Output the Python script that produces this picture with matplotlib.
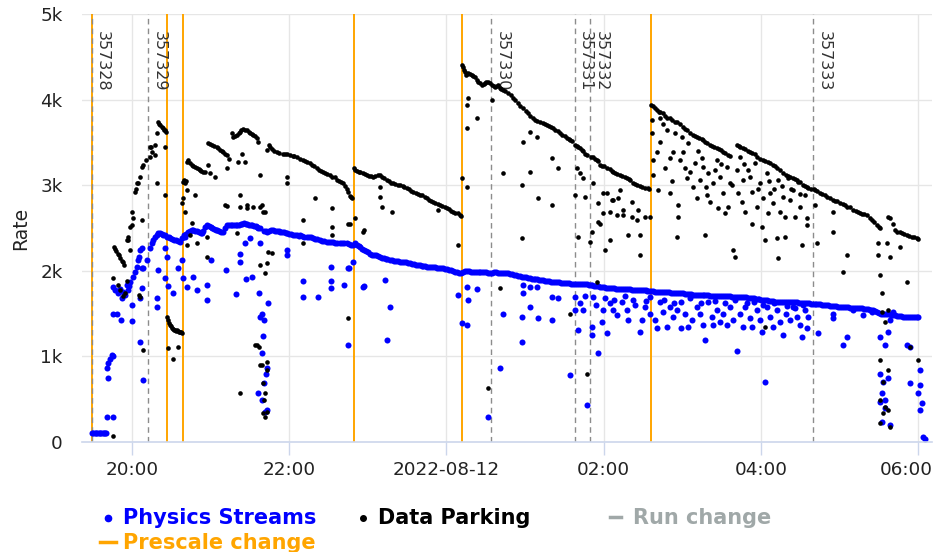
import datetime as dt
import matplotlib
matplotlib.use("Agg")
import matplotlib.pyplot as plt
import matplotlib.dates as mdates
from matplotlib.lines import Line2D
from matplotlib import transforms

# ---------------- data (minutes after 2022-08-11 19:00, rate) ----------------
T0 = dt.datetime(2022, 8, 11, 19, 0)

physics_start = [(29.5,100),(30.5,100),(31.5,100),(32.5,100),(33.5,100),(34.5,100),(35.5,100),
    (36.5,100),(37.5,100),(38.5,100),(39.5,100),(40.5,100),(41,290),(45.5,290),(41,860),(41.7,920),
    (43.2,970),(44.7,1020),(45.5,1000),(41.7,750),(45.5,1500),(48.5,1500),(51.6,1420),(60,1410),
    (66.1,1170),(68.4,720),(45.5,1810),(47,1780),(49.3,1740),(52.4,1680),(53.1,1750),(56.2,1830),
    (56.9,1780),(58.5,1870),(60,1600),(60.8,1930),(62.3,1990),(63.8,2040),(64.6,2130),(67.6,1800),
    (66.1,1680),(67.6,2270),(65.3,2160),(68.4,2030),(71.5,2130),(50.8,1790),(54.7,1720),(58,1820)]

physics_band = [(73.7,2270),(75,2320),(76,2360),(77.5,2400),(79,2420),(80,2440),(81.4,2440),(82.5,2430),
    (83.7,2420),(85,2420),(86.7,2400),(88,2390),(89,2380),(90.5,2370),(92,2360),(93.5,2360),(95,2350),
    (96.6,2340),(98,2380),(99.5,2420),(100.5,2400),(101.5,2430),(102.7,2450),(104,2470),(105.5,2480),
    (106.6,2480),(108,2470),(109.6,2460),(111,2450),(112.5,2440),(113.4,2440),(114.5,2470),(115.5,2510),
    (117.3,2530),(118.5,2520),(120,2510),(121.1,2500),(122.5,2490),(124,2480),(124.9,2480),(126.5,2460),
    (128,2450),(129.5,2450),(131,2500),(132.5,2530),(134,2540),(135.5,2530),(136.3,2530),(138,2540),
    (139.5,2530),(140.2,2530),(141.5,2540),(143,2550),(144,2550),(145.5,2560),(147,2550),(147.8,2550),
    (149,2540),(150.5,2540),(151.6,2530),(153,2520),(154.5,2520),(155.4,2510),(156.5,2500),(157.7,2500),
    (161,2470),(162.3,2460),(163.1,2450),(164.5,2470),(166,2480),(167.6,2480),(169,2470),(170.5,2460),
    (172,2460),(173,2450),(174.5,2450),(176,2450),(177.5,2440),(178.3,2440),(179.5,2430),(181,2430),
    (182.9,2420),(184.5,2420),(186,2420),(187.5,2410),(188.3,2420),(190,2410),(191.5,2400),(193.6,2400),
    (195,2390),(196.5,2390),(198.2,2380),(200,2370),(201.5,2370),(203.5,2360),(205,2350),(206.5,2350),
    (208.9,2340),(210.5,2340),(212,2340),(213.4,2340),(215,2330),(216.5,2330),(218.8,2320),(220.5,2320),
    (222,2320),(224.1,2320),(225.5,2310),(227,2300),(228.7,2300),(230,2320),(231.5,2300),(233,2290),
    (234.1,2280),(235.5,2260),(237,2240),(238.5,2230),(240,2220),(241.7,2200),(243,2190),(244.5,2190),
    (246,2180),(247.5,2170),(249,2160),(250.5,2150),(252,2150),(253.5,2140),(255,2140),(257,2130),
    (258.5,2130),(260,2120),(261.5,2120),(263,2110),(264.6,2100),(266,2100),(267.5,2100),(269,2100),
    (270.5,2090),(272,2090),(273.5,2080),(275,2080),(276.5,2070),(278,2070),(279.5,2070),(281,2060),
    (282.5,2060),(284,2060),(285.5,2050),(287,2050),(288.5,2050),(290,2040),(291.5,2040),(293,2030),
    (294.5,2030),(296,2030),(297.5,2030),(299,2020),(300.5,2020),(302,2010),(303.5,2010),(305,2000),
    (306.5,1990),(308,1990),(309.5,1980),(311,1970),(312.5,1990),(314,2000),(315.5,2000),(317,2000),
    (318.5,1990),(320,1990),(321.5,1990),(323,1990),(324.5,1990),(326,1990),(327.5,1990),(329,1990),
    (330.5,1990),(332,1980),(333.5,1980),(335,1970),(336.5,1990),(338,1990),(339.5,1980),(341,1980),
    (342.5,1980),(344,1970),(345.5,1970),(347,1970),(348.5,1960),(350,1960),(351.5,1950),(353,1950),
    (354.5,1940),(356,1940),(357.5,1930),(359,1930),(360.5,1930),(362,1920),(363.5,1920),(365,1910),
    (366.5,1910),(368,1900),(369.5,1900),(371,1890),(372.5,1890),(374,1890),(375.5,1880),(377,1880),
    (378.5,1880),(380,1870),(381.5,1870),(383,1870),(384.5,1870),(386,1870),(387.5,1860),(389,1860),
    (390.5,1860),(392,1860),(393.5,1860),(395,1850),(396.5,1850),(398,1850),(399.5,1850),(401,1840),
    (402.5,1850),(404,1850),(405.5,1840),(407,1840),(408.5,1830),(410,1830),(411.5,1830),(413,1820),
    (414.5,1820),(416,1820),(417.5,1810),(419,1810),(420.5,1810),(422,1800),(423.5,1800),(425,1800),
    (426.5,1800),(428,1800),(429.5,1790),(431,1790),(432.5,1790),(434,1790),(435.5,1790),(437,1790),
    (438.5,1790),(440,1790),(441.5,1780),(443,1780),(444.5,1780),(446,1780),(447.5,1780),(449,1770),
    (450.5,1770),(452,1770),(453.5,1760),(455,1760),(456.5,1760),(458,1760),(459.5,1750),(461,1750),
    (462.5,1750),(464,1750),(465.5,1750),(467,1750),(468.5,1750),(470,1750),(471.5,1740),(473,1740),
    (474.5,1740),(476,1740),(477.5,1740),(479,1740),(480.5,1740),(482,1730),(483.5,1730),(485,1730),
    (486.5,1730),(488,1720),(489.5,1720),(491,1720),(492.5,1720),(494,1720),(495.5,1720),(497,1720),
    (498.5,1720),(500,1720),(501.5,1710),(503,1710),(504.5,1710),(506,1710),(507.5,1710),(509,1710),
    (510.5,1700),(512,1700),(513.5,1700),(515,1700),(516.5,1700),(518,1690),(519.5,1690),(521,1690),
    (522.5,1690),(524,1690),(525.5,1690),(527,1690),(528.5,1690),(530,1680),(531.5,1680),(533,1680),
    (534.5,1680),(536,1670),(537.5,1670),(539,1670),(540.5,1660),(542,1660),(543.5,1660),(545,1660),
    (546.5,1650),(548,1650),(549.5,1650),(551,1640),(552.5,1640),(554,1640),(555.5,1640),(557,1640),
    (558.5,1640),(560,1640),(561.5,1630),(563,1630),(564.5,1630),(566,1630),(567.5,1630),(569,1620),
    (570.5,1620),(572,1620),(573.5,1620),(575,1620),(576.5,1620),(578,1610),(579.5,1610),(581,1610),
    (582.5,1610),(584,1610),(585.5,1610),(587,1600),(588.5,1600),(590,1600),(591.5,1600),(593,1590),
    (594.5,1590),(596,1590),(597.5,1590),(599,1580),(600.5,1580),(602,1580),(603.5,1580),(605,1580),
    (606.5,1580),(608,1570),(609.5,1570),(611,1570),(612.5,1560),(614,1560),(615.5,1560),(617,1560),
    (618.5,1550),(620,1550),(621.5,1550),(623,1540),(624.5,1540),(626,1540),(627.5,1530),(629,1520),
    (630.5,1510),(632,1500),(633.5,1500),(635,1500),(636.5,1490),(638,1490),(639.5,1480),(641,1480),
    (642.5,1480),(644,1470),(645.5,1470),(647,1470),(648.5,1460),(650,1460),(651.5,1460),(653,1460),
    (654.5,1460),(656,1460),(657.5,1460),(659,1460),(660,1460)]

physics_scatter = [(66.1,2240),(67.6,2030),(79.1,1680),(79.1,1580),(79.8,2010),(85.2,2270),(86.7,2160),
    (85.2,1920),(87.5,1820),(91.3,1740),(95.1,2030),(98.2,2130),(98.9,1920),(102,1810),(106.6,1930),
    (109.6,1780),(117.3,1830),(117.3,1660),(120.3,2130),(131.8,2010),(139.4,1730),(142.4,2200),
    (142.4,2100),(147,1900),(151.6,1930),(157.7,2320),(178.3,2240),(178.3,2180),(190.5,1880),
    (190.5,1690),(202,1690),(212,2040),(212,1880),(212,1800),(225.7,2030),(224.9,1130),(228.7,2100),
    (237.1,1820),(146.3,2320),(150.1,2380),(163.8,1620),(157,1740),(159.2,1500),(157.7,1460),
    (160.8,1420),(160,1240),(159.2,1040),(162.3,800),(160.8,690),(156.2,570),(159.2,490),(161.5,350),
    (163.1,370),(163.1,860),(224.9,2030),(222,1830),(236.3,1810),(253.1,1890),(257,1580),(254.7,1190),
    (308.9,1720),(311.9,1390),(315.7,1370),(315.7,1810),(316.5,1660),(323.4,1790),(331.8,290),
    (340.9,860),(343.2,1500),(357.7,1460),(357.7,1170),(358.5,1740),(358.5,1830),(363.8,1580),
    (369.9,1450),(369.2,1810),(363.8,1810),(380.6,1420),(380.6,1690),(385.2,1680),(394.4,780),
    (398.2,1690),(398.2,1540),(400.5,1310),(404.3,1540),(407.3,430),(411.1,1250),(411.1,1340),
    (411.9,1690),(415.7,1040),(418.8,1400),(419.5,1540),(422.6,1270),(424.9,1620),(427.2,1540),
    (430.2,1480),(434,1640),(437.9,1540),(438.7,1420),(442.5,1660),(447.8,1290),(449.3,1420),
    (451.6,1580),(455.5,1500),(455.5,1690),(459.2,1420),(460.8,1330),(463.1,1640),(465.4,1520),
    (468.4,1340),(470.7,1580),(473,1460),(476.1,1540),(479.1,1330),(479.1,1640),(482.2,1500),
    (484.5,1340),(487.5,1420),(491.3,1580),(493.6,1500),(495.9,1370),(497.4,1190),(499.7,1640),
    (502.7,1460),(503.5,1370),(506.6,1540),(508.9,1400),(511.2,1500),(514.2,1370),(516.5,1580),
    (518.8,1420),(521.9,1060),(524.1,1500),(526.4,1340),(529.5,1620),(531.8,1450),(533.3,1340),
    (537.1,1540),(539.4,1420),(540.9,1290),(543.2,700),(544.7,1580),(547,1460),(549.3,1340),
    (552.4,1540),(554.7,1400),(557,1250),(559.3,1500),(562.3,1420),(564.6,1580),(567.7,1460),
    (569.9,1370),(573.8,1540),(575.3,1330),(576.1,1460),(571.4,1230),(402,1620),(406,1700),
    (414,1600),(421,1680),(428,1660),(436,1700),(444,1600),(452,1650),(466,1660),(474,1620),
    (486,1680),(494,1620),(505,1650),(513,1620),(520,1660),(528,1580),(535,1640),(542,1600),
    (550,1620),(560,1590),(566,1560),(572,1600),
    (583.7,1270),(595.2,1500),(595.2,1450),(602.8,1130),(605.9,1230),(610.5,1540),(618.1,1480),
    (624.9,1520),(631,1230),(634.8,1130),(637.1,1290),(638.6,1420),(640.9,1520),(651.6,1130),
    (653.9,1110),(653.9,690),(631,800),(633.3,700),(637.1,750),(632.5,570),(634.8,490),(631,470),
    (632.5,230),(638.6,200),(634.8,400),(661.6,840),(661.6,670),(660,570),(663.1,450),(661.6,370),
    (663.8,60),(665,40)]

parking_band = [(46,2280),(47,2250),(48,2230),(49,2200),(50,2180),(51,2150),(52,2120),(53,2100),(54,2070),
    (56,2360),(57,2400),(58.5,2510),(60,2690),(61,2620),(62,2920),(63,2960),(64.6,3020),(66,3100),
    (67.6,3210),(68.5,3240),(71,3300),(73.7,3330),(74.5,3450),(75.3,3390),(77.6,3470),(79,3610),
    (79.8,3740),(80.6,3720),(81.4,3700),(82.5,3680),(83.7,3670),(84.5,3650),(85.2,3640),(86,3620),
    (86.7,1460),(87.5,1420),(88.2,1390),(89,1370),(89.8,1350),(90.5,1330),(91.3,1320),(92,1310),
    (92.8,1310),(93.6,1300),(94.3,1310),(95.1,1300),(95.9,1290),(96.6,1280),(97.4,1290),(98.2,1270),
    (98.9,3040),(99.7,3060),(100.5,3030),(101.2,3050),(102,3270),(103,3290),(104.3,3260),(105.5,3240),
    (106.6,3220),(108,3210),(109.6,3200),(111,3190),(111.9,3180),(113,3170),(114.2,3150),(115.7,3160),
    (118,3490),(119.5,3480),(121.1,3470),(122.5,3460),(124.9,3450),(126,3430),(127.2,3410),(128.4,3400),
    (129.5,3390),(131,3370),(132.5,3350),(134,3310),(136.3,3610),(137.1,3560),(138.6,3580),(140.2,3590),
    (141.3,3610),(142.4,3620),(143.5,3640),(144.7,3660),(146.3,3650),(147.8,3640),(149,3620),(150.1,3610),
    (151.3,3600),(152.4,3590),(154,3570),(155.4,3550),(156.2,3500),(163.1,3410),(164.2,3470),(165.4,3450),
    (166.9,3420),(168.5,3400),(170.7,3390),(172.5,3380),(175.3,3370),(177,3360),(178.3,3360),(180.6,3350),
    (182.5,3340),(184,3340),(186,3330),(188.3,3310),(190.5,3290),(192,3280),(193.6,3270),(195.9,3260),
    (197.5,3240),(199,3230),(201.2,3200),(203,3180),(204.5,3170),(205.8,3150),(207.5,3140),(208.9,3130),
    (211.2,3120),(213,3100),(214.8,3090),(216.5,3060),(218,3050),(219.5,3040),(221.1,3020),(222.5,2990),
    (224.1,2960),(225.2,2920),(226.4,2870),(227.2,2860),(228,2850),
    (229.5,3200),(230.5,3180),(232,3170),(233.5,3160),(234.1,3150),(236,3140),(237.5,3130),(239.4,3120),
    (241,3110),(242.5,3110),(244,3100),(245.5,3110),(247.5,3120),(249.3,3120),(251,3100),(252.5,3080),
    (254.7,3060),(256.5,3050),(258,3030),(259.2,3020),(261,3010),(263,3000),(264.6,3000),(266.5,2990),
    (268,2980),(269.9,2970),(271.5,2950),(273,2930),(274.5,2920),(276.5,2910),(278,2900),(279.9,2890),
    (281.5,2880),(283.5,2860),(285.2,2850),(287,2830),(288.5,2810),(289.8,2800),(291.5,2790),(293.5,2780),
    (295.1,2770),(297,2760),(299,2740),(300.5,2730),(302,2720),(303.5,2700),(305,2690),(306.5,2680),
    (308.5,2670),(310.4,2650),(311.2,2640),
    (312,4400),(312.7,4380),(313.4,4350),(314.2,4320),(315,4290),(315.7,4300),(316.5,4310),(318,4300),
    (319.6,4290),(320.5,4280),(321.8,4260),(323,4230),(324.1,4200),(325.5,4190),(327.2,4170),(328.5,4180),
    (329.5,4190),(330.5,4200),(331.8,4200),(333,4190),(334.8,4170),(336,4160),(337.1,4150),(338.5,4160),
    (339.4,4170),(341,4140),(342,4120),(343.2,4110),(345,4100),(347,4080),(349,4050),(350.9,4020),
    (352.5,4000),(354.7,3960),(356.5,3930),(358.5,3900),(360.5,3870),(362.3,3840),(364,3810),(366.1,3780),
    (368,3760),(369.5,3750),(371.5,3740),(373.5,3730),(375,3710),(376.8,3700),(378.5,3690),(380,3680),
    (381.4,3670),(383,3650),(385,3630),(386.7,3610),(388.5,3590),(390.5,3570),(392.1,3550),(393.5,3540),
    (394.4,3530),(396,3520),
    (398.2,3470),(399.7,3460),(400.5,3450),(402,3430),(403.5,3410),(404.3,3400),(405.8,3370),(407.3,3350),
    (410,3330),(411.9,3330),(413.5,3310),(414.9,3290),(415.7,3280),(417.2,3240),(418.8,3230),(420.5,3220),
    (422.6,3200),(424.9,3190),(426.4,3170),(427.2,3150),(429,3140),(430.5,3130),(432.5,3120),(434,3110),
    (436,3100),(437.9,3080),(439.5,3070),(440.2,3060),(442.5,3030),(444,3010),(445.5,3000),(447.8,2990),
    (449.5,2980),(451.6,2970),(453.9,2970),(455,2960),
    (456.5,3940),(457.7,3920),(459.2,3900),(460.8,3880),(462,3860),(463.1,3850),(465.4,3840),(467,3810),
    (468.4,3790),(470.7,3780),(472.5,3760),(474.5,3740),(476.1,3740),(478,3710),(480.6,3680),(482.2,3660),
    (484,3640),(486,3610),(488,3590),(489.8,3570),(491.3,3560),(493,3550),(495.1,3540),(495.9,3530),
    (497.5,3510),(499,3490),(501.2,3470),(503,3460),(504.5,3450),(506.6,3430),(508,3420),(509.5,3410),
    (511.2,3390),(513,3380),(515,3350),(516.5,3340),
    (521.9,3470),(523.5,3460),(524.1,3450),(526.4,3430),(528,3420),(530.3,3400),(531.8,3390),(533.3,3380),
    (535.6,3360),(537.1,3330),(539.4,3310),(541.7,3290),(543.2,3280),(545.5,3270),(547,3260),(549.3,3240),
    (551,3220),(552.4,3200),(555,3180),(557,3140),(559,3120),(560.8,3110),(562.3,3100),(564.6,3080),
    (566.1,3070),(567.7,3060),(569.9,3040),(572.2,3000),(573.8,2990),(575.3,2980),(576.1,2970),(578,2960),
    (580.5,2950),(581.4,2940),(583,2930),(585.2,2910),(587,2900),(589,2880),(590.6,2860),(592.5,2850),
    (595.2,2830),(597,2820),(598.5,2810),(600.5,2790),(602.5,2780),(604,2770),(605.9,2750),(608,2740),
    (610.5,2710),(612.5,2700),(614,2690),(615.8,2670),(617.5,2660),(619,2660),(621.1,2650),(623,2620),
    (624.9,2590),(626.5,2570),(628.7,2530),(630,2510),(631,2500),
    (637,2630),(638.6,2620),(640.9,2550),(642.5,2480),(644,2450),(646.3,2450),(647.8,2440),(649.5,2430),
    (651.6,2420),(653.5,2410),(655.4,2400),(657,2390),(659.3,2380),(660,2370)]

parking_scatter = [(45.5,70),(45.5,1920),(49.3,1830),(50.8,1780),(53.1,1700),(54.7,1740),(56.2,1880),
    (66.1,1690),(65.3,1720),(68.4,1070),(67.6,2590),(60,2530),(56.9,2360),(58.5,2240),(79.1,3020),
    (85.2,2880),(63.8,3020),(73.7,3450),(77.6,3350),(85.2,3450),(87.5,1100),(91.3,970),(95.1,1110),
    (98.2,2790),(100.5,2690),(98.9,2850),(102,2940),(108.1,2890),(118,3240),(119.5,3140),(123.4,3100),
    (132.5,3200),(132.5,2760),(140.9,3270),(144,3370),(146.3,3270),(142.4,2890),(142.4,2750),
    (147.8,2730),(152.4,2740),(157.7,3120),(157.7,2740),(161.5,2690),(178.3,3100),(178.3,3020),
    (199.7,2850),(212.7,2730),(190.5,2590),(212.7,2510),(212.7,2420),(226.4,2550),(230.2,2620),
    (105.8,2560),(104.3,2420),(117.3,2400),(102,2300),(109.6,2320),(117.3,2160),(140.2,2440),
    (166.9,2210),(157.7,2070),(161.5,1970),(190.5,2320),(131,2770),(147.8,2770),(159.2,2770),
    (160,2690),(163.8,2220),(163.1,2090),(142.4,570),(224.9,1450),(237.1,2480),
    (153.9,1130),(155.4,1130),(157,1110),(157.7,900),(159.2,900),(163.1,930),(163.1,840),(160,690),
    (161.5,570),(160,340),(161.5,290),(163.1,350),(160.8,490),
    (224.9,2550),(236.3,2450),(249.3,2980),(249.3,2860),(250.8,2750),(258.5,2690),(293.6,2710),
    (308.9,2300),(311.9,3080),(315.7,2980),(315.7,3670),(323.4,3780),(316.5,4020),(315.7,3940),
    (334.8,3990),(343.2,3140),(357.7,3000),(363.8,3150),(358.5,3500),(363.8,3620),(369.2,3560),
    (380.6,3320),(385.2,3200),(369.9,2850),(380.6,2770),(357.7,2380),(340.9,1800),(331.8,630),
    (394.4,1500),(399.7,3200),(402,3140),(404.3,3080),(398.2,2890),(405.8,2860),(400.5,2400),
    (409.6,2340),(407.3,800),(411.9,3020),(415.7,2790),(419.5,2670),(422.6,2910),(424.9,2690),
    (427.2,2830),(430.2,2650),(432.5,2940),(434.8,2710),(438.7,2420),(441.7,2800),(445.5,2590),
    (421,2240),(415.7,2570),(424.9,2360),(419.5,2910),(426.4,2830),(431,2850),(434.8,2650),
    (441.7,2630),(446.3,2710),(451.6,2630),(455.5,2630),(447.8,2420),(447.8,2180),(417.2,2550),
    (411.1,2450),(414.9,1870),
    (457,3760),(457,3610),(457.7,3290),(457.7,3120),(460.8,3390),(461.5,2940),(463.1,3780),(465.4,3720),
    (468.4,3640),(470.7,3320),(470.7,2910),(473,3390),(474.5,3610),(476.8,2770),(476.8,2630),(479.9,3560),
    (480.6,3390),(482.2,3200),(483.7,3080),(484.5,3490),(488.3,2980),(489.8,3260),(491.3,2850),(493.6,3060),
    (495.1,3320),(495.9,3210),(497.4,2420),(499,2890),(499.7,3140),(501.2,2800),(503.5,3020),(506.6,3290),
    (507.4,2730),(508.9,3100),(511.2,2910),(512.7,2670),(514.2,3210),(515,2750),(516.5,3020),(518.8,2240),
    (520.3,2160),(521.9,3180),(522.6,2910),(524.1,3330),(525.7,2800),(526.4,3060),(528,2690),(530.3,3180),
    (533.3,2920),(533.3,2550),(535.6,3260),(537.1,2750),(539.4,3020),(540.9,2510),(541.7,2850),(544.7,3140),
    (545.5,2670),(547,2910),(549.3,2790),(552.4,2380),(553.2,3060),(554.7,2690),(557,2860),(558.5,2630),
    (560.8,3080),(562.3,2830),(564.6,2940),(566.1,2630),(568.4,3040),(569.9,2750),(571.4,2300),(573.8,2890),
    (575.3,2620),(575.3,2530),(476.1,2400),(543.2,2360),(553.2,2150),(558.5,2400),(543.2,1340),
    (463,3500),(467,3200),(472,3050),(478,3300),(486,3150),(492,3400),(498,2980),(505,3180),(510,3250),
    (518,3000),(527,3250),(532,3100),(538,2950),(546,3050),(550,2950),(556,2990),(563,2950),(570,2900),
    (581.4,2770),(595.2,2690),(595.2,2450),(582.9,2320),(605.9,2180),(602.8,1990),(629.5,2320),(636.3,2320),
    (629.5,2180),(638.6,2160),(646.3,2280),(631,1950),(632.5,1740),(651.6,1870),(637.1,1540),(632.5,1520),
    (634.8,1400),(653.9,1110),(660,960),(631,960),(637.1,840),(633.3,700),(631,490),(634.8,410),
    (637.1,370),(631,220),(638.6,180),(633.3,340)]

run_changes = [(29.2, "357328"), (72.4, "357329"), (334.0, "357330"),
               (398.0, "357331"), (409.6, "357332"), (580.0, "357333")]
prescale_changes = [29.2, 86.5, 99.2, 229.5, 311.7, 456.0]

x_ticks = [60, 180, 300, 420, 540, 660]
y_ticks = [0, 1000, 2000, 3000, 4000, 5000]
y_labels = ["0", "1k", "2k", "3k", "4k", "5k"]

# ---------------- helpers ----------------
def to_dt(minutes):
    return [T0 + dt.timedelta(minutes=m) for m in minutes]

def split(pairs):
    return to_dt([p[0] for p in pairs]), [p[1] for p in pairs]

phys_t, phys_v = split(physics_start + physics_band + physics_scatter)
park_t, park_v = split(parking_band + parking_scatter)

# ---------------- figure ----------------
fig = plt.figure(figsize=(9.35, 5.52), dpi=100)
ax = fig.add_axes([82/935, 110/552, 850/935, 428/552])

grid_c = "#e6e6e6"
for y in y_ticks[1:]:
    ax.axhline(y, color=grid_c, lw=1, zorder=0)
for m in x_ticks:
    ax.axvline(to_dt([m])[0], color=grid_c, lw=1, zorder=0)

for m in prescale_changes:
    ax.axvline(to_dt([m])[0], color="#FFA500", lw=1.4, zorder=1)
lab_tr = transforms.offset_copy(ax.transData, fig=fig, x=3.5, y=0, units="dots")
for m, lab in run_changes:
    x = to_dt([m])[0]
    ax.axvline(x, color="#8c8c8c", lw=1, ls=(0, (4, 3)), zorder=1.5)
    ax.text(x, 4800, lab, rotation=-90, ha="left", va="top", fontsize=11.5,
            color="#333333", transform=lab_tr, zorder=1.6)

ax.scatter(phys_t, phys_v, s=19, c="#0000ff", linewidths=0, zorder=3)
ax.scatter(park_t, park_v, s=11, c="#000000", linewidths=0, zorder=4)

ax.set_xlim(to_dt([21.8])[0], to_dt([670.7])[0])
ax.set_ylim(0, 5000)

ax.set_xticks(to_dt(x_ticks))
def fmt(x, pos=None):
    d = mdates.num2date(x)
    return d.strftime("%Y-%m-%d") if d.hour == 0 else d.strftime("%H:%M")
ax.xaxis.set_major_formatter(plt.FuncFormatter(fmt))
ax.set_yticks(y_ticks)
ax.set_yticklabels(y_labels)

for s in ["top", "right", "left"]:
    ax.spines[s].set_visible(False)
ax.spines["bottom"].set_color("#ccd6eb")
ax.spines["bottom"].set_linewidth(1.2)
ax.spines["bottom"].set_zorder(5)
ax.tick_params(axis="x", length=9, width=1, color="#ccd6eb", pad=5,
               labelsize=13.2, labelcolor="#222222")
ax.tick_params(axis="y", length=0, pad=14, labelsize=13.2, labelcolor="#222222")
ax.set_ylabel("Rate", fontsize=13.5, color="#222222", labelpad=7)

# keep the last x label inside the figure (shift left like the reference)
fig.canvas.draw()
last = ax.get_xticklabels()[-1]
last.set_transform(last.get_transform() +
                   transforms.ScaledTranslation(-12/100, 0, fig.dpi_scale_trans))

# ---------------- legend (manual, below plot) ----------------
W, H = 935, 552
def fx(px): return px / W
def fy(py): return (H - py) / H

fig.add_artist(Line2D([fx(108)], [fy(518)], marker="o", ms=4.5, color="#0000ff", lw=0,
                      transform=fig.transFigure))
fig.text(fx(123), fy(524), "Physics Streams", fontsize=15, fontweight="bold",
         color="#0000ff", va="baseline")
fig.add_artist(Line2D([fx(363)], [fy(518)], marker="o", ms=4.0, color="#000000", lw=0,
                      transform=fig.transFigure))
fig.text(fx(378), fy(524), "Data Parking", fontsize=15, fontweight="bold",
         color="#000000", va="baseline")
fig.add_artist(Line2D([fx(610), fx(621)], [fy(517), fy(517)], color="#a0a8a8", lw=2.5,
                      transform=fig.transFigure))
fig.text(fx(633), fy(524), "Run change", fontsize=15, fontweight="bold",
         color="#a0a8a8", va="baseline")
fig.add_artist(Line2D([fx(100), fx(116)], [fy(542), fy(542)], color="#FFA500", lw=2.5,
                      transform=fig.transFigure))
fig.text(fx(123), fy(549), "Prescale change", fontsize=15, fontweight="bold",
         color="#FFA500", va="baseline")

fig.savefig("out.png", dpi=100)
